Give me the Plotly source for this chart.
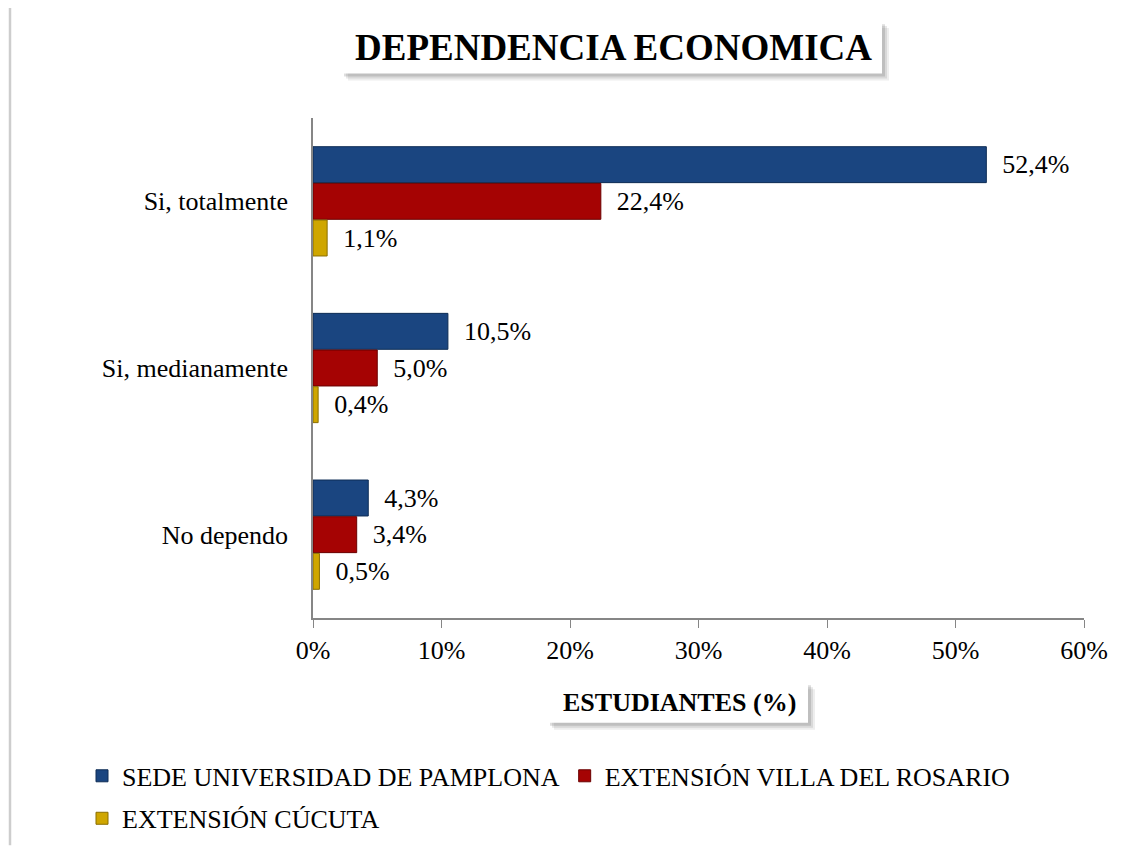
import plotly.graph_objects as go

categories = ["Si, totalmente", "Si, medianamente", "No dependo"]
series_names = ["SEDE UNIVERSIDAD DE PAMPLONA", "EXTENSIÓN VILLA DEL ROSARIO", "EXTENSIÓN CÚCUTA"]
pamplona = [52.4, 10.5, 4.3]
villa_rosario = [22.4, 5.0, 3.4]
cucuta = [1.1, 0.4, 0.5]
x_ticks = [0, 10, 20, 30, 40, 50, 60]
x_tick_labels = ["0%", "10%", "20%", "30%", "40%", "50%", "60%"]

OFF = 8  # page body margin
W, H = 1133 - OFF, 854 - OFF
# plot area in reference pixel coordinates
RL, RR, RT, RB = 313, 1084, 118, 624
L, R, T, B = RL - OFF, RR - OFF, RT - OFF, RB - OFF


def px(x):
    return (x - RL) / (RR - RL)


def py(y):
    return (RB - y) / (RB - RT)


FONT = "Liberation Serif, Times New Roman, serif"
FS = 26

fills = ["#1A4580", "#A50303", "#CFA600"]
lines = ["#0E2D55", "#6A0000", "#8A6E00"]
data = [pamplona, villa_rosario, cucuta]

fig = go.Figure()
for i, (name, vals) in enumerate(zip(series_names, data)):
    fig.add_trace(go.Bar(
        y=categories, x=vals, name=name, orientation="h",
        marker=dict(color=fills[i], line=dict(color=lines[i], width=1)),
        texttemplate="\u00a0\u00a0%{x:.1f}%", textposition="outside",
        textfont=dict(family=FONT, size=FS, color="#000"),
        cliponaxis=False,
        legend="legend" if i < 2 else "legend2",
    ))

fig.update_layout(
    width=W, height=H,
    margin=dict(l=L, r=W - R, t=T, b=H - B),
    paper_bgcolor="white", plot_bgcolor="white",
    separators=", ",
    barmode="group", bargap=0.34, bargroupgap=0.02,
    font=dict(family=FONT, size=FS, color="#000"),
    xaxis=dict(range=[0, 60], tickvals=x_ticks, ticktext=x_tick_labels,
               showgrid=False, zeroline=False, showline=True,
               linecolor="#868686", linewidth=1.5, ticks="outside",
               ticklen=8, tickcolor="#868686",
               tickfont=dict(family=FONT, size=FS)),
    yaxis=dict(autorange="reversed", showgrid=False, showline=True,
               linecolor="#868686", linewidth=1.5, ticks="",
               ticklabelstandoff=18,
               tickfont=dict(family=FONT, size=FS)),
    showlegend=True,
    legend=dict(orientation="h", x=px(82), y=py(760), xanchor="left", yanchor="top",
                font=dict(family=FONT, size=FS), itemwidth=30, tracegroupgap=0,
                bgcolor="rgba(0,0,0,0)"),
    legend2=dict(orientation="h", x=px(82), y=py(803), xanchor="left", yanchor="top",
                 font=dict(family=FONT, size=FS), itemwidth=30,
                 bgcolor="rgba(0,0,0,0)"),
)

shapes = []
# page left border
shapes.append(dict(type="line", xref="paper", yref="paper",
                   x0=px(10), x1=px(10), y0=py(0), y1=py(854),
                   line=dict(color="#CDCDCD", width=2.5)))


def shadow_box(x0, x1, y0, y1):
    out = []
    for k, a in [(7, 0.10), (5, 0.14), (3, 0.2)]:
        out.append(dict(type="rect", xref="paper", yref="paper",
                        x0=px(x0 + k - 2), x1=px(x1 + k), y0=py(y0 + k), y1=py(y1 + k),
                        fillcolor=f"rgba(90,90,90,{a})", line=dict(width=0)))
    out.append(dict(type="rect", xref="paper", yref="paper",
                    x0=px(x0), x1=px(x1), y0=py(y0), y1=py(y1),
                    fillcolor="white", line=dict(width=0)))
    return out


shapes += shadow_box(343, 882, 20, 73)
shapes += shadow_box(549, 808, 689, 730)
fig.update_layout(shapes=shapes)

fig.add_annotation(text="<b>DEPENDENCIA ECONOMICA</b>", xref="paper", yref="paper",
                   x=px(613), y=py(47), xanchor="center", yanchor="middle", showarrow=False,
                   font=dict(family=FONT, size=37, color="#000"))
fig.add_annotation(text="<b>ESTUDIANTES (%)</b>", xref="paper", yref="paper",
                   x=px(679), y=py(710), xanchor="center", yanchor="middle", showarrow=False,
                   font=dict(family=FONT, size=FS, color="#000"))

fig.write_html("out.html")
